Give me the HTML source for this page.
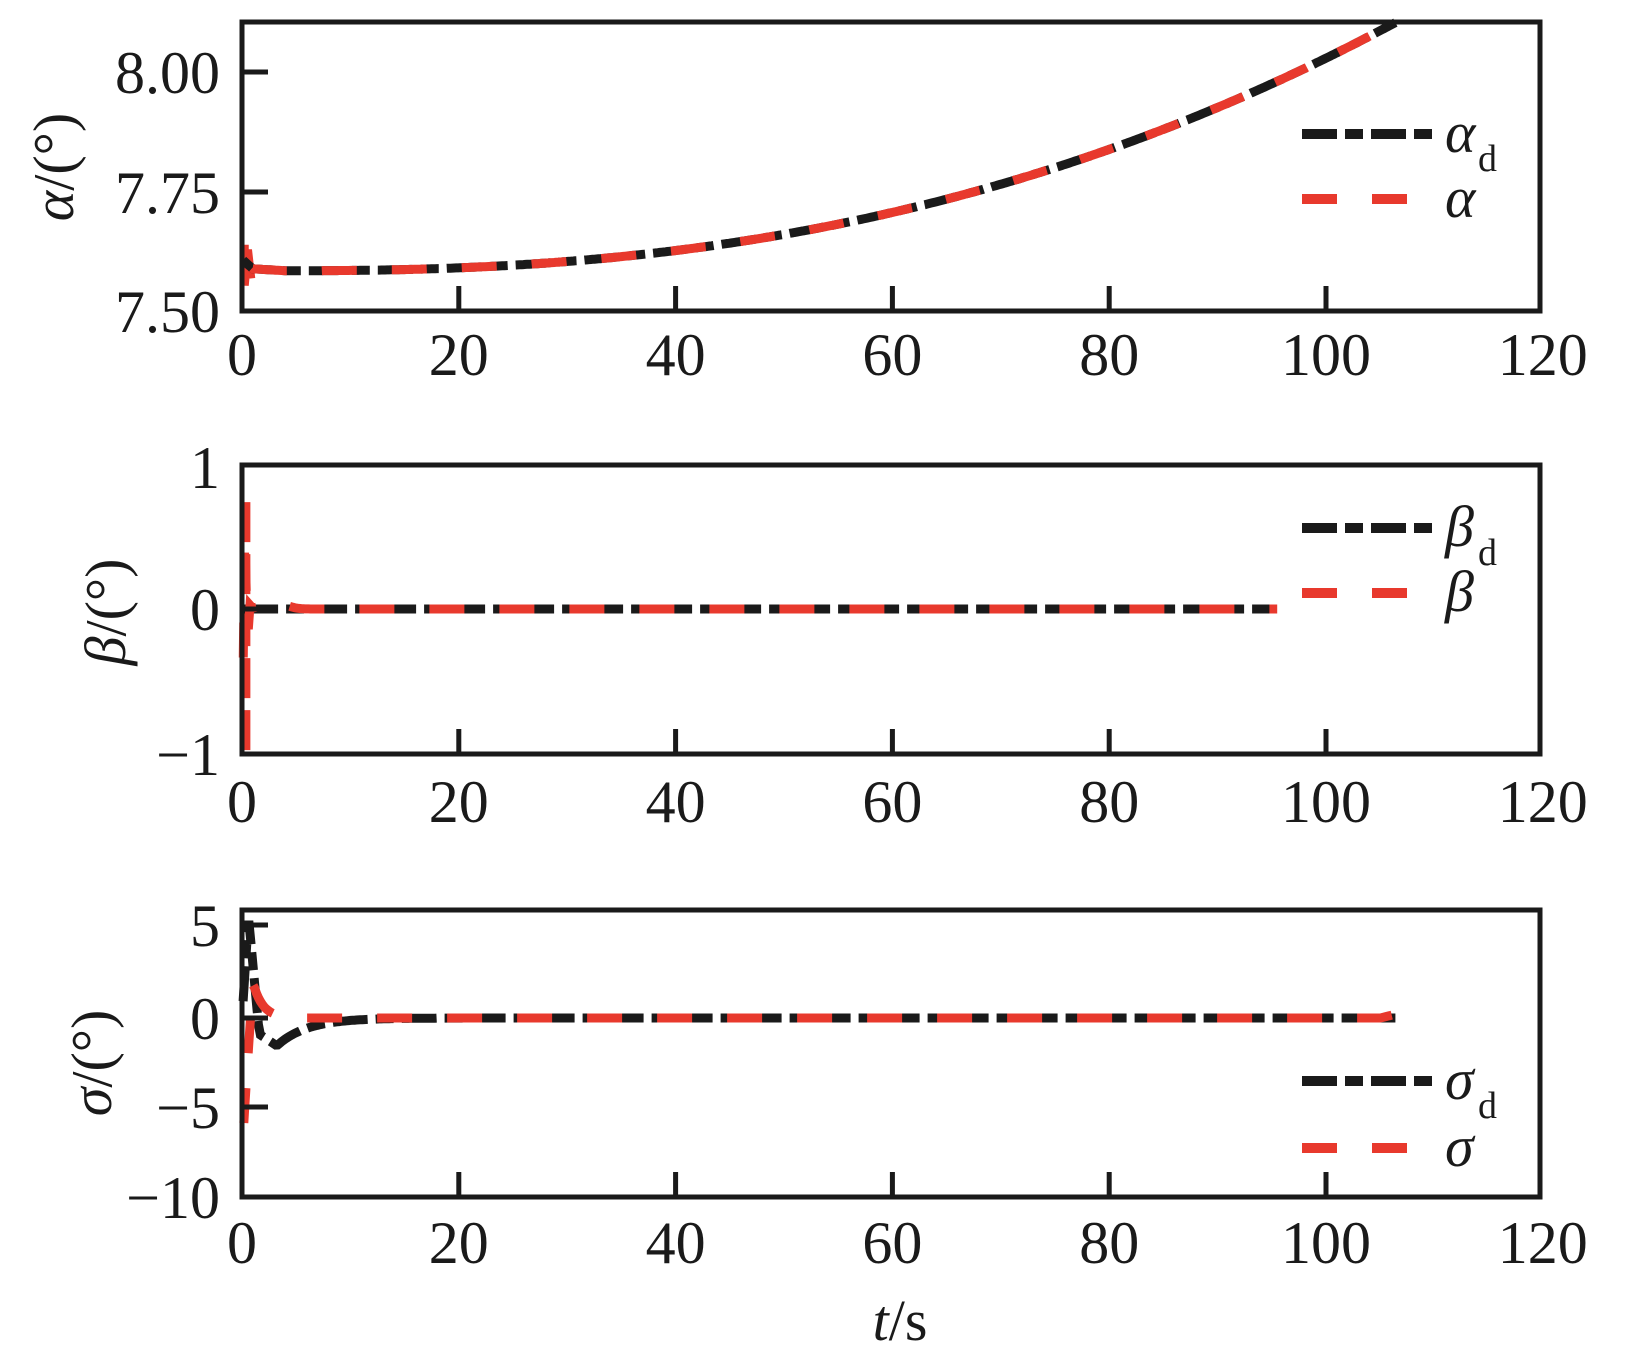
<!DOCTYPE html>
<html><head><meta charset="utf-8"><style>
html,body{margin:0;padding:0;background:#fff}
svg{display:block}
text{font-family:"Liberation Serif",serif;fill:#1a1a1a}
</style></head><body>
<svg id="s" width="1627" height="1355" viewBox="0 0 1627 1355" xmlns="http://www.w3.org/2000/svg">
<g id="g"></g>
<text x="60" y="167" font-size="58" text-anchor="middle" transform="rotate(-90 60 167)" dominant-baseline="middle"><tspan font-style="italic">α</tspan>/(°)</text>
<text x="112" y="612" font-size="58" text-anchor="middle" transform="rotate(-90 112 612)" dominant-baseline="middle"><tspan font-style="italic">β</tspan>/(°)</text>
<text x="98" y="1063" font-size="58" text-anchor="middle" transform="rotate(-90 98 1063)" dominant-baseline="middle"><tspan font-style="italic">σ</tspan>/(°)</text>
<text x="900" y="1340" font-size="58" text-anchor="middle"><tspan font-style="italic">t</tspan>/s</text>
</svg>
<script>
var NS="http://www.w3.org/2000/svg",g=document.getElementById('g');
function el(n,a,t){var e=document.createElementNS(NS,n);for(var k in a)e.setAttribute(k,a[k]);if(t!==undefined)e.textContent=t;g.appendChild(e);return e;}
function tx(t){return 242+t*10.84;}
var panels=[
 {top:22,bot:311,ticks:[[8.00,72,"8.00"],[7.75,192,"7.75"],[7.50,311,"7.50"]],lab:375,v2y:function(v){return 72+(8-v)*480;}},
 {top:465,bot:754,ticks:[[1,467,"1"],[0,609,"0"],[-1,754,"\u22121"]],lab:822,v2y:function(v){return 609-v*144;}},
 {top:910,bot:1197,ticks:[[5,925,"5"],[0,1018,"0"],[-5,1107,"\u22125"],[-10,1197,"\u221210"]],lab:1263,v2y:function(v){return 1018-v*18;}}
];
function curve(f,t0,t1,n,P){var d="";for(var i=0;i<=n;i++){var t=t0+(t1-t0)*i/n;d+=(i?"L":"M")+tx(t).toFixed(1)+","+P.v2y(f(t)).toFixed(1);}return d;}
var BL="#1a1a1a",RD="#e8392d",DB="35 8 18 8",DR="35 35",SW=9;
panels.forEach(function(P,pi){
 var fb,fr,tend,n=600;
 if(pi==0){tend=106.4;
  fb=function(t){return t<1?7.61-0.02*t:7.586+0.517*Math.pow(Math.max(t-4,0)/102.4,2.4)+ (t<4?0.004*(4-t)/3:0);};
  fr=fb;
  el('path',{d:"M"+tx(0.3)+","+P.v2y(7.64)+"L"+tx(0.3)+","+P.v2y(7.555)+"L"+tx(0.6)+","+P.v2y(7.63)+"L"+tx(0.9)+","+P.v2y(7.57),stroke:RD,"stroke-width":7,fill:"none"});
 } else if(pi==1){tend=95.5;
  fb=function(t){return 0;};
  fr=function(t){if(t<0.3)return -1+t*5.8;if(t<1)return 0.75*Math.exp(-(t-0.3)*6)*Math.cos((t-0.3)*12);return 0.05*Math.exp(-(t-3)*(t-3)/2);};
  el('path',{d:"M"+tx(0.45)+","+P.v2y(-0.98)+"L"+tx(0.45)+","+P.v2y(0.76),stroke:RD,"stroke-width":7,fill:"none","stroke-dasharray":"40 12"});
 } else {tend=106.4;
  fb=function(t){if(t<0.6)return t/0.6*5.6;if(t<1.6)return 5.6-(t-0.6)*6.5;if(t<3.2)return -0.9-(t-1.6)*0.4;return -1.55*Math.exp(-(t-3.2)/2.8);};
  fr=function(t){if(t<0.3)return -7.5+t*10;if(t<1)return -4.5+(t-0.3)/0.7*6.5;if(t<5)return 2*Math.exp(-(t-1)/0.9);return t>105?0.15*(t-105):0;};
 }
 el('path',{d:curve(fb,0.1,tend,n,P),stroke:BL,"stroke-width":SW,fill:"none","stroke-dasharray":DB});
 el('path',{d:curve(fr,0.1,tend,n,P),stroke:RD,"stroke-width":SW,fill:"none","stroke-dasharray":DR,"stroke-dashoffset":"-12"});
 el('rect',{x:242,y:P.top,width:1298,height:P.bot-P.top,fill:"none",stroke:BL,"stroke-width":5});
 for(var k=1;k<=5;k++){var x=tx(k*20);el('line',{x1:x,y1:P.bot,x2:x,y2:P.bot-25,stroke:BL,"stroke-width":5});}
 for(var k=0;k<=6;k++){el('text',{x:tx(k*20),y:P.lab,"font-size":60,"text-anchor":"middle"},String(k*20));}
 P.ticks.forEach(function(tk){
  if(tk[1]>P.top+3&&tk[1]<P.bot-3)el('line',{x1:242,y1:tk[1],x2:268,y2:tk[1],stroke:BL,"stroke-width":5});
  el('text',{x:220,y:tk[1]+21,"font-size":60,"text-anchor":"end"},tk[2]);
 });
});
var L=[[134,199,"α"],[528,593,"β"],[1081,1148,"σ"]];
L.forEach(function(l){
 el('line',{x1:1302,y1:l[0],x2:1432,y2:l[0],stroke:BL,"stroke-width":10,"stroke-dasharray":"35 8 18 8"});
 el('line',{x1:1302,y1:l[1],x2:1410,y2:l[1],stroke:RD,"stroke-width":10,"stroke-dasharray":"35 35"});
 el('text',{x:1445,y:l[0]+18,"font-size":58,"font-style":"italic"},l[2]);
 el('text',{x:1478,y:l[0]+37,"font-size":38},"d");
 el('text',{x:1445,y:l[1]+18,"font-size":58,"font-style":"italic"},l[2]);
});
</script>
</body></html>
